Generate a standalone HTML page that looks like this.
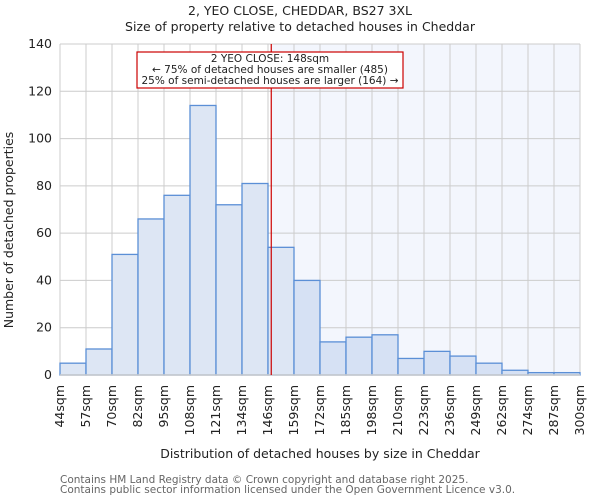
<!DOCTYPE html>
<html><head><meta charset="utf-8"><style>
body{margin:0;background:#fff}
svg{display:block;font-family:"DejaVu Sans","Liberation Sans",sans-serif}
</style></head><body>
<svg width="600" height="500">
<text x="300" y="15" text-anchor="middle" font-size="12.5" fill="#222">2, YEO CLOSE, CHEDDAR, BS27 3XL</text>
<text x="300" y="31" text-anchor="middle" font-size="12.5" fill="#222">Size of property relative to detached houses in Cheddar</text>
<g id="plot"></g>
<text transform="translate(13,230) rotate(-90)" text-anchor="middle" font-size="12.5" fill="#222">Number of detached properties</text>
<text x="320" y="458" text-anchor="middle" font-size="12.5" fill="#222">Distribution of detached houses by size in Cheddar</text>
<text x="60" y="483" font-size="10.5" fill="#666">Contains HM Land Registry data © Crown copyright and database right 2025.</text>
<text x="60" y="493" font-size="10.5" fill="#666">Contains public sector information licensed under the Open Government Licence v3.0.</text>
</svg>
<script>
const tickLabels=["44sqm","57sqm","70sqm","82sqm","95sqm","108sqm","121sqm","134sqm","146sqm","159sqm","172sqm","185sqm","198sqm","210sqm","223sqm","236sqm","249sqm","262sqm","274sqm","287sqm","300sqm"];
const counts=[5,11,51,66,76,114,72,81,54,40,14,16,17,7,10,8,5,2,1,1];
const yTicks=[0,20,40,60,80,100,120,140];
const minSqm=44, maxSqm=300, subjectSqm=148, yMax=140;
const L=60,R=580,T=44,B=375;
const NS="http://www.w3.org/2000/svg";
const g=document.getElementById('plot');
const xIdx=i=>L+(R-L)*i/counts.length;
const xS=v=>L+(R-L)*(v-minSqm)/(maxSqm-minSqm);
const yS=v=>B-(B-T)*v/yMax;
function mk(t,a,p){const e=document.createElementNS(NS,t);for(const k in a)e.setAttribute(k,a[k]);(p||g).appendChild(e);return e;}
const sx=xS(subjectSqm);
let e=mk('rect',{x:sx,y:T,width:R-sx,height:B-T,fill:'#f3f6fd'});


yTicks.forEach(v=>{
 let l=mk('line',{x1:L,x2:R,y1:yS(v),y2:yS(v),stroke:'#ccc','stroke-width':1});
 
 
 let t=mk('text',{x:L-8,y:yS(v)+4,'text-anchor':'end','font-size':'12.5',fill:'#222'});
 t.textContent=v;
 
 
});
tickLabels.forEach((s,i)=>{
 let l=mk('line',{x1:xIdx(i),x2:xIdx(i),y1:T,y2:B,stroke:'#ccc','stroke-width':1});
 
 
 let t=mk('text',{transform:`translate(${xIdx(i)+4},385) rotate(-90)`,'text-anchor':'end','font-size':'12.5',fill:'#222'});
 t.textContent=s;
 
 
});
counts.forEach((c,i)=>{
 let r=mk('rect',{x:xIdx(i),y:yS(c),width:xIdx(i+1)-xIdx(i),height:B-yS(c),fill:xIdx(i)>=sx?'#d6e1f4':'#dde6f4',stroke:'#5b8fd6','stroke-width':1.3});
 
 
});
let ax=mk('line',{x1:L,x2:R,y1:B,y2:B,stroke:'#ccc','stroke-width':1.5});


let m=mk('line',{x1:sx,x2:sx,y1:T,y2:B,stroke:'#c00','stroke-width':1.2});


let box=mk('rect',{x:137,y:52,width:266,height:36,fill:'#fff',stroke:'#c00','stroke-width':1.2});


["2 YEO CLOSE: 148sqm","← 75% of detached houses are smaller (485)","25% of semi-detached houses are larger (164) →"].forEach((s,i)=>{
 let t=mk('text',{x:270,y:62+i*11,'text-anchor':'middle','font-size':'10.5',fill:'#222'});
 t.textContent=s;
 
 
});
</script>
</body></html>
